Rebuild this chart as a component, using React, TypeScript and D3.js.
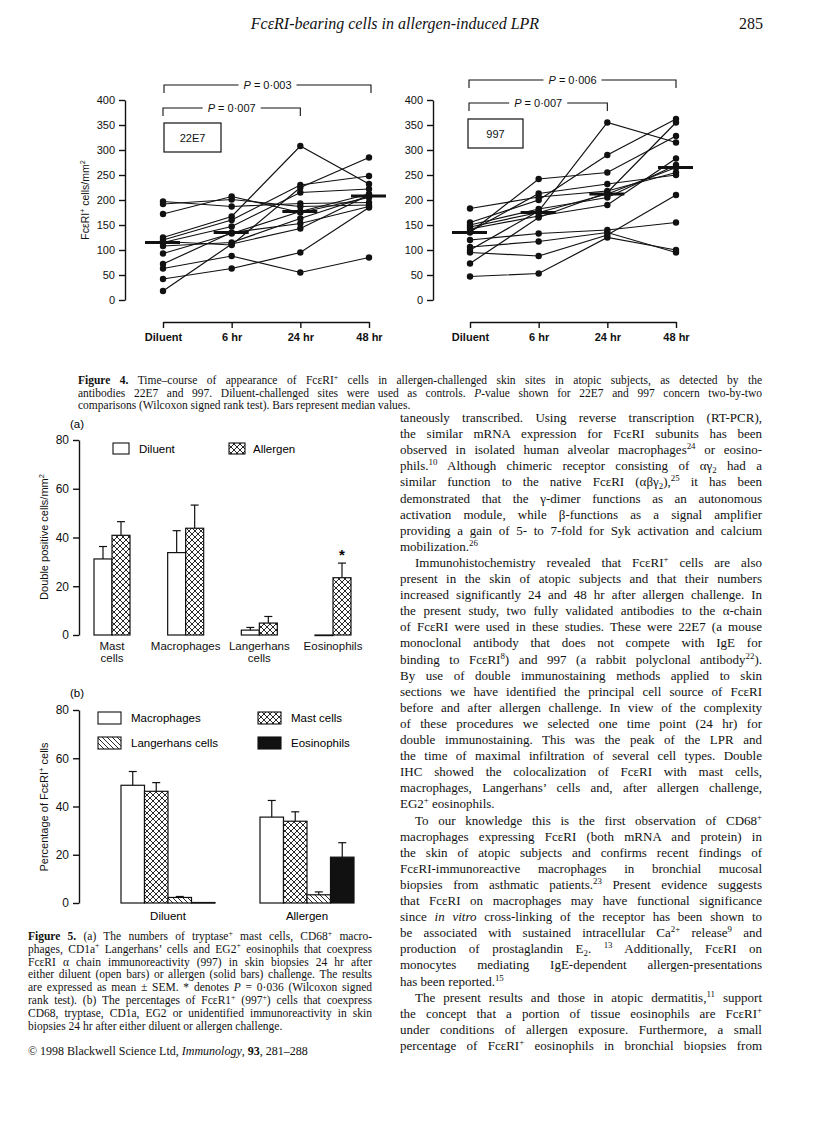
import React, { useEffect, useRef } from 'react';
import * as d3 from 'd3';

const W = 816;
const H = 1136;
const SERIF = '"Liberation Serif", "Times New Roman", serif';
const SANS = '"Liberation Sans", Arial, Helvetica, sans-serif';

// ---- Figure 4: FceRI+ cells/mm2 per subject over time ----
const timePoints = ['Diluent', '6 hr', '24 hr', '48 hr'];
const fig4Ticks = [0, 50, 100, 150, 200, 250, 300, 350, 400];

// 22E7 (index = subject)
const e22Diluent = [197, 192, 172, 125, 120, 117, 115, 108, 93, 72, 63, 42, 18];
const e22h6 = [187, 201, 207, 167, 160, 110, 147, 115, 133, 135, 88, 63, 112];
const e22h24 = [193, 187, 175, 308, 230, 225, 215, 163, 177, 153, 55, 95, 143];
const e22h48 = [195, 190, 205, 232, 248, 285, 222, 208, 212, 187, 85, 185, 210];

// 997 (index = subject)
const e997Diluent = [183, 155, 150, 146, 142, 137, 135, 120, 106, 100, 95, 73, 47];
const e997h6 = [206, 200, 182, 175, 168, 213, 242, 133, 117, 178, 88, 165, 53];
const e997h24 = [218, 290, 205, 212, 190, 232, 255, 140, 135, 355, 130, 215, 125];
const e997h48 = [255, 362, 270, 265, 283, 250, 328, 155, 95, 315, 210, 355, 100];

// ---- Figure 5a: double positive cells/mm2 ----
const cellTypes = ['Mast cells', 'Macrophages', 'Langerhans cells', 'Eosinophils'];
const cellLabels = [['Mast', 'cells'], ['Macrophages'], ['Langerhans', 'cells'], ['Eosinophils']];
const diluentMean = [31.2, 33.8, 2.0, 0];
const diluentSem = [5.1, 9.0, 1.1, 0];
const allergenMean = [40.9, 43.8, 4.9, 23.5];
const allergenSem = [5.6, 9.5, 2.7, 6.0];
const fig5aTicks = [0, 20, 40, 60, 80];

// ---- Figure 5b: percentage of FceRI+ cells ----
const challenges = ['Diluent', 'Allergen'];
const sourceTypes = ['Macrophages', 'Mast cells', 'Langerhans cells', 'Eosinophils'];
const macrophagePct = [48.8, 35.6];
const macrophageSem = [5.7, 6.9];
const mastPct = [46.3, 33.9];
const mastSem = [3.6, 3.9];
const langerhansPct = [2.3, 3.4];
const langerhansSem = [0.4, 1.2];
const eosinophilPct = [0.2, 19];
const eosinophilSem = [0, 6];

// ---- page text ----
const fig4Caption = [
  '<b>Figure 4.</b> Time–course of appearance of FcεRI<sup>+</sup> cells in allergen-challenged skin sites in atopic subjects, as detected by the',
  'antibodies 22E7 and 997. Diluent-challenged sites were used as controls. <i>P</i>-value shown for 22E7 and 997 concern two-by-two',
  'comparisons (Wilcoxon signed rank test). Bars represent median values.',
];
const fig5Caption = [
  '<b>Figure 5.</b> (a) The numbers of tryptase<sup>+</sup> mast cells, CD68<sup>+</sup> macro-',
  'phages, CD1a<sup>+</sup> Langerhans’ cells and EG2<sup>+</sup> eosinophils that coexpress',
  'FcεRI α chain immunoreactivity (997) in skin biopsies 24 hr after',
  'either diluent (open bars) or allergen (solid bars) challenge. The results',
  'are expressed as mean ± SEM. * denotes <i>P</i> = 0·036 (Wilcoxon signed',
  'rank test). (b) The percentages of FcεR1<sup>+</sup> (997<sup>+</sup>) cells that coexpress',
  'CD68, tryptase, CD1a, EG2 or unidentified immunoreactivity in skin',
  'biopsies 24 hr after either diluent or allergen challenge.',
];
const bodyParagraphs = [
  [
    'taneously transcribed. Using reverse transcription (RT-PCR),',
    'the similar mRNA expression for FcεRI subunits has been',
    'observed in isolated human alveolar macrophages<sup>24</sup> or eosino-',
    'phils.<sup>10</sup> Although chimeric receptor consisting of αγ<sub>2</sub> had a',
    'similar function to the native FcεRI (αβγ<sub>2</sub>),<sup>25</sup> it has been',
    'demonstrated that the γ-dimer functions as an autonomous',
    'activation module, while β-functions as a signal amplifier',
    'providing a gain of 5- to 7-fold for Syk activation and calcium',
    'mobilization.<sup>26</sup>',
  ],
  [
    'Immunohistochemistry revealed that FcεRI<sup>+</sup> cells are also',
    'present in the skin of atopic subjects and that their numbers',
    'increased significantly 24 and 48 hr after allergen challenge. In',
    'the present study, two fully validated antibodies to the α-chain',
    'of FcεRI were used in these studies. These were 22E7 (a mouse',
    'monoclonal antibody that does not compete with IgE for',
    'binding to FcεRI<sup>8</sup>) and 997 (a rabbit polyclonal antibody<sup>22</sup>).',
    'By use of double immunostaining methods applied to skin',
    'sections we have identified the principal cell source of FcεRI',
    'before and after allergen challenge. In view of the complexity',
    'of these procedures we selected one time point (24 hr) for',
    'double immunostaining. This was the peak of the LPR and',
    'the time of maximal infiltration of several cell types. Double',
    'IHC showed the colocalization of FcεRI with mast cells,',
    'macrophages, Langerhans’ cells and, after allergen challenge,',
    'EG2<sup>+</sup> eosinophils.',
  ],
  [
    'To our knowledge this is the first observation of CD68<sup>+</sup>',
    'macrophages expressing FcεRI (both mRNA and protein) in',
    'the skin of atopic subjects and confirms recent findings of',
    'FcεRI-immunoreactive macrophages in bronchial mucosal',
    'biopsies from asthmatic patients.<sup>23</sup> Present evidence suggests',
    'that FcεRI on macrophages may have functional significance',
    'since <i>in vitro</i> cross-linking of the receptor has been shown to',
    'be associated with sustained intracellular Ca<sup>2+</sup> release<sup>9</sup> and',
    'production of prostaglandin E<sub>2</sub>. <sup>13</sup> Additionally, FcεRI on',
    'monocytes mediating IgE-dependent allergen-presentations',
    'has been reported.<sup>15</sup>',
  ],
  [
    'The present results and those in atopic dermatitis,<sup>11</sup> support',
    'the concept that a portion of tissue eosinophils are FcεRI<sup>+</sup>',
    'under conditions of allergen exposure. Furthermore, a small',
    'percentage of FcεRI<sup>+</sup> eosinophils in bronchial biopsies from',
  ],
];

type Sel = d3.Selection<any, any, any, any>;

// writes one line with <b>, <i>, <sup>, <sub> markup; justifies it when width is given
function richText(parent: Sel, str: string, x: number, y: number, size: number, family: string, width?: number, anchor = 'start') {
  const t = parent.append('text').attr('x', x).attr('y', y)
    .attr('font-size', size).attr('font-family', family).attr('text-anchor', anchor).attr('fill', '#111');
  const re = /<(b|i|sup|sub)>(.*?)<\/\1>/g;
  let shift = 0;
  let last = 0;
  const add = (txt: string, kind: string) => {
    if (!txt) return;
    const target = kind === 'sup' ? -size * 0.38 : kind === 'sub' ? size * 0.2 : 0;
    const ts = t.append('tspan').text(txt).attr('dy', target - shift);
    shift = target;
    if (kind === 'sup' || kind === 'sub') ts.attr('font-size', size * 0.68);
    if (kind === 'b') ts.attr('font-weight', 'bold');
    if (kind === 'i') ts.attr('font-style', 'italic');
  };
  let m: RegExpExecArray | null;
  while ((m = re.exec(str))) {
    add(str.slice(last, m.index), '');
    add(m[2], m[1]);
    last = re.lastIndex;
  }
  add(str.slice(last), '');
  if (width) {
    const len = (t.node() as SVGTextElement).getComputedTextLength();
    const n = (t.text().match(/ /g) || []).length;
    if (n) t.style('word-spacing', `${(width - len) / n}px`);
  }
  return t;
}

function styleAxis(a: Sel, size: number, bold = false) {
  a.selectAll('path, line').attr('stroke', '#111').attr('stroke-width', 1.4);
  a.selectAll('text').attr('font-family', SANS).attr('font-size', size).attr('fill', '#111')
    .attr('font-weight', bold ? 'bold' : 'normal');
}

function bracket(g: Sel, xa: number, xb: number, yy: number, label: string) {
  g.append('path').attr('d', `M${xa},${yy + 8}V${yy}H${xb}V${yy + 8}`)
    .attr('fill', 'none').attr('stroke', '#111').attr('stroke-width', 1.1);
  const t = richText(g, label, (xa + xb) / 2, yy + 4, 11, SANS, undefined, 'middle');
  const bb = (t.node() as SVGTextElement).getBBox();
  g.insert('rect', () => t.node()).attr('x', bb.x - 5).attr('y', yy - 3).attr('width', bb.width + 10)
    .attr('height', 6).attr('fill', '#fff');
}

function drawTimePanel(svg: Sel, cfg: any) {
  const { axisX, x0, x1, series, title, tag, box, outer, inner } = cfg;
  const y = d3.scaleLinear().domain([0, 400]).range([300, 100]);
  const x = d3.scalePoint<string>().domain(timePoints).range([x0, x1]);
  const g = svg.append('g');

  const ya = g.append('g').attr('transform', `translate(${axisX},0)`)
    .call(d3.axisLeft(y).tickValues(fig4Ticks).tickSize(6).tickSizeOuter(0).tickPadding(4));
  styleAxis(ya, 11);
  const xa = g.append('g').attr('transform', 'translate(0,322)')
    .call(d3.axisBottom(x).tickSize(6).tickSizeOuter(0).tickPadding(5));
  styleAxis(xa, 11, true);

  if (title) {
    richText(g.append('g').attr('transform', `translate(${axisX - 36},200) rotate(-90)`),
      'FcεRI<sup>+</sup> cells/mm<sup>2</sup>', 0, 0, 10.5, SANS, undefined, 'middle');
  }

  const subjects = d3.range(series[0].length).map((i) => series.map((s: number[]) => s[i]));
  const line = d3.line<number>().x((_, j) => x(timePoints[j]) as number).y((d) => y(d));
  g.selectAll('path.subj').data(subjects).join('path').attr('class', 'subj')
    .attr('d', (d) => line(d)).attr('fill', 'none').attr('stroke', '#111').attr('stroke-width', 1.2);

  series.forEach((vals: number[], j: number) => {
    g.selectAll(null).data(vals).join('circle')
      .attr('cx', x(timePoints[j]) as number).attr('cy', (d) => y(d)).attr('r', 3.2).attr('fill', '#111');
    const med = d3.median(vals) as number;
    g.append('line').attr('x1', (x(timePoints[j]) as number) - 18).attr('x2', (x(timePoints[j]) as number) + 17)
      .attr('y1', y(med)).attr('y2', y(med)).attr('stroke', '#111').attr('stroke-width', 3.2);
  });

  g.append('rect').attr('x', box[0]).attr('y', box[1]).attr('width', box[2]).attr('height', box[3])
    .attr('fill', '#fff').attr('stroke', '#111').attr('stroke-width', 1.2);
  g.append('text').attr('x', box[0] + box[2] / 2).attr('y', box[1] + box[3] / 2 + 4).attr('text-anchor', 'middle')
    .attr('font-family', SANS).attr('font-size', 11).attr('fill', '#111').text(tag);

  bracket(g, x0 + outer[0], x1 + outer[1], outer[2], outer[3]);
  bracket(g, x0 + inner[0], (x('24 hr') as number) + inner[1], inner[2], inner[3]);
}

function defsPatterns(svg: Sel) {
  const defs = svg.append('defs');
  const cross = defs.append('pattern').attr('id', 'cross').attr('patternUnits', 'userSpaceOnUse')
    .attr('width', 6).attr('height', 6);
  cross.append('rect').attr('width', 6).attr('height', 6).attr('fill', '#fff');
  cross.append('path').attr('d', 'M0,0L6,6M6,0L0,6M-1,5L1,7M5,-1L7,1M-1,1L1,-1M5,7L7,5')
    .attr('stroke', '#111').attr('stroke-width', 0.9);
  const hatch = defs.append('pattern').attr('id', 'hatch').attr('patternUnits', 'userSpaceOnUse')
    .attr('width', 5).attr('height', 5);
  hatch.append('rect').attr('width', 5).attr('height', 5).attr('fill', '#fff');
  hatch.append('path').attr('d', 'M0,0L5,5M-1,4L1,6M4,-1L6,1').attr('stroke', '#111').attr('stroke-width', 0.9);
}

function barWithError(g: Sel, y: d3.ScaleLinear<number, number>, bx: number, bw: number, v: number, e: number, fill: string) {
  const top = y(v);
  g.append('rect').attr('x', bx).attr('y', top).attr('width', bw).attr('height', Math.max(y(0) - top, 0.6))
    .attr('fill', fill).attr('stroke', '#111').attr('stroke-width', 1.2);
  if (e > 0) {
    const cx = bx + bw / 2;
    g.append('line').attr('x1', cx).attr('x2', cx).attr('y1', top).attr('y2', y(v + e))
      .attr('stroke', '#111').attr('stroke-width', 1.2);
    g.append('line').attr('x1', cx - 4).attr('x2', cx + 4).attr('y1', y(v + e)).attr('y2', y(v + e))
      .attr('stroke', '#111').attr('stroke-width', 1.2);
  }
}

function drawFig5a(svg: Sel) {
  const g = svg.append('g');
  const y = d3.scaleLinear().domain([0, 80]).range([635, 440]);
  const x = d3.scalePoint<string>().domain(cellTypes).range([112, 333]);
  const bw = 18;
  const ya = g.append('g').attr('transform', 'translate(79,0)')
    .call(d3.axisLeft(y).tickValues(fig5aTicks).tickSize(6).tickSizeOuter(0).tickPadding(4));
  styleAxis(ya, 12);
  g.append('text').attr('x', 70).attr('y', 428).attr('font-family', SANS).attr('font-size', 11.5).text('(a)');
  richText(g.append('g').attr('transform', 'translate(48,537) rotate(-90)'),
    'Double positive cells/mm<sup>2</sup>', 0, 0, 11, SANS, undefined, 'middle');

  cellTypes.forEach((c, i) => {
    const cx = x(c) as number;
    barWithError(g, y, cx - bw, bw, diluentMean[i], diluentSem[i], '#fff');
    barWithError(g, y, cx, bw, allergenMean[i], allergenSem[i], 'url(#cross)');
    const t = g.append('text').attr('text-anchor', 'middle').attr('font-family', SANS).attr('font-size', 11.5).attr('fill', '#111');
    cellLabels[i].forEach((s, k) => t.append('tspan').attr('x', cx).attr('y', 650 + k * 11.5).text(s));
  });
  const eosX = (x('Eosinophils') as number) + bw / 2;
  g.append('text').attr('x', eosX).attr('y', y(allergenMean[3] + allergenSem[3]) + 0).attr('dy', -3)
    .attr('text-anchor', 'middle').attr('font-family', SANS).attr('font-size', 15).attr('font-weight', 'bold').text('*');

  // legend
  g.append('rect').attr('x', 113).attr('y', 443).attr('width', 16).attr('height', 11).attr('fill', '#fff').attr('stroke', '#111').attr('stroke-width', 1.1);
  g.append('text').attr('x', 139).attr('y', 453).attr('font-family', SANS).attr('font-size', 11.5).text('Diluent');
  g.append('rect').attr('x', 229).attr('y', 443).attr('width', 16).attr('height', 11).attr('fill', 'url(#cross)').attr('stroke', '#111').attr('stroke-width', 1.1);
  g.append('text').attr('x', 253).attr('y', 453).attr('font-family', SANS).attr('font-size', 11.5).text('Allergen');
}

function drawFig5b(svg: Sel) {
  const g = svg.append('g');
  const y = d3.scaleLinear().domain([0, 80]).range([903, 710]);
  const x = d3.scalePoint<string>().domain(challenges).range([168, 307]);
  const bw = 23.5;
  const ya = g.append('g').attr('transform', 'translate(79,0)')
    .call(d3.axisLeft(y).tickValues(fig5aTicks).tickSize(6).tickSizeOuter(0).tickPadding(4));
  styleAxis(ya, 12);
  g.append('text').attr('x', 70).attr('y', 697).attr('font-family', SANS).attr('font-size', 11.5).text('(b)');
  richText(g.append('g').attr('transform', 'translate(48,807) rotate(-90)'),
    'Percentage of FcεRI<sup>+</sup> cells', 0, 0, 11, SANS, undefined, 'middle');

  const vals = [macrophagePct, mastPct, langerhansPct, eosinophilPct];
  const sems = [macrophageSem, mastSem, langerhansSem, eosinophilSem];
  const fills = ['#fff', 'url(#cross)', 'url(#hatch)', '#111'];
  challenges.forEach((c, i) => {
    const cx = x(c) as number;
    sourceTypes.forEach((_, k) => {
      barWithError(g, y, cx - 2 * bw + k * bw, bw, vals[k][i], sems[k][i], fills[k]);
    });
    g.append('text').attr('x', cx).attr('y', 920).attr('text-anchor', 'middle').attr('font-family', SANS)
      .attr('font-size', 11.5).text(c);
  });

  // legend
  const leg = [[98, 712], [258, 712], [98, 737], [258, 737]];
  const order = [0, 1, 2, 3];
  order.forEach((k) => {
    const [lx, ly] = leg[k];
    g.append('rect').attr('x', lx).attr('y', ly).attr('width', 23).attr('height', 12)
      .attr('fill', fills[k]).attr('stroke', '#111').attr('stroke-width', 1.1);
    g.append('text').attr('x', lx + 33).attr('y', ly + 10).attr('font-family', SANS).attr('font-size', 11.5).text(sourceTypes[k]);
  });
}

function drawText(svg: Sel) {
  const g = svg.append('g');
  richText(g, '<i>FcεRI-bearing cells in allergen-induced LPR</i>', 395, 29, 16, SERIF, undefined, 'middle');
  g.append('text').attr('x', 763).attr('y', 29).attr('text-anchor', 'end').attr('font-family', SERIF)
    .attr('font-size', 16).attr('fill', '#111').text('285');

  fig4Caption.forEach((s, i) => {
    richText(g, s, 78, 384 + i * 12.5, 11.5, SERIF, i < fig4Caption.length - 1 ? 684 : undefined);
  });
  fig5Caption.forEach((s, i) => {
    richText(g, s, 28, 940 + i * 12.8, 11.5, SERIF, i < fig5Caption.length - 1 ? 344 : undefined);
  });
  richText(g, '© 1998 Blackwell Science Ltd, <i>Immunology</i>, <b>93</b>, 281–288', 28, 1055, 12, SERIF);

  const colX = 400;
  const colW = 362;
  let row = 0;
  bodyParagraphs.forEach((para, p) => {
    para.forEach((s, i) => {
      const indent = p > 0 && i === 0 ? 15 : 0;
      const isLast = i === para.length - 1 && p < bodyParagraphs.length - 1;
      richText(g, s, colX + indent, 422 + row * 16.1, 13, SERIF, isLast ? undefined : colW - indent);
      row += 1;
    });
  });
}

const App = () => {
  const svgRef = useRef<SVGSVGElement>(null);

  useEffect(() => {
    document.body.style.margin = '0';
    const svg = d3.select(svgRef.current);
    svg.selectAll('*').remove();
    svg.append('rect').attr('width', W).attr('height', H).attr('fill', '#fff');
    defsPatterns(svg);

    drawTimePanel(svg, {
      axisX: 125, x0: 163, x1: 369,
      series: [e22Diluent, e22h6, e22h24, e22h48],
      title: true, tag: '22E7', box: [164, 123, 57, 29],
      outer: [1, 2, 85, '<i>P</i> = 0·003'],
      inner: [0, 0, 108, '<i>P</i> = 0·007'],
    });
    drawTimePanel(svg, {
      axisX: 433, x0: 470, x1: 676,
      series: [e997Diluent, e997h6, e997h24, e997h48],
      title: false, tag: '997', box: [468, 119, 55, 29],
      outer: [-1, 0, 80, '<i>P</i> = 0·006'],
      inner: [-1, 0, 103, '<i>P</i> = 0·007'],
    });
    drawFig5a(svg);
    drawFig5b(svg);
    drawText(svg);
  }, []);

  return <svg ref={svgRef} width={W} height={H} style={{ position: 'absolute', left: 0, top: 0 }} />;
};

export default App;
